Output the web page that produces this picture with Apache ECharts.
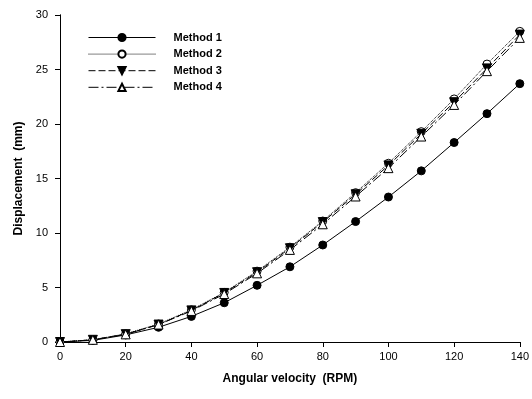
<!DOCTYPE html>
<html><head><meta charset="utf-8">
<script src="https://cdn.jsdelivr.net/npm/echarts@6/dist/echarts.min.js"></script>
<style>html,body{margin:0;padding:0;background:#fff}#c{width:532px;height:399px}</style>
</head><body><div id="c"></div>
<script>
const rpm = [0,10,20,30,40,50,60,70,80,90,100,110,120,130,140];
const method1 = [0,0.15,0.65,1.35,2.35,3.6,5.2,6.9,8.9,11.05,13.3,15.7,18.3,20.95,23.7];
const method2 = [0,0.2,0.75,1.65,2.95,4.55,6.5,8.7,11.1,13.7,16.4,19.3,22.3,25.5,28.5];
const method3 = [0,0.2,0.72,1.6,2.9,4.5,6.4,8.6,11.0,13.55,16.2,19.1,22.0,25.1,28.2];
const method4 = [0,0.2,0.7,1.6,2.85,4.4,6.3,8.45,10.8,13.35,15.95,18.85,21.75,24.85,27.9];
const names = ['Method 1','Method 2','Method 3','Method 4'];
const xTicks = [0,20,40,60,80,100,120,140];
const yTicks = [0,5,10,15,20,25,30];

const pair = arr => rpm.map((x,i)=>[x,arr[i]]);
const font = 'Liberation Sans, Arial, sans-serif';
const chart = echarts.init(document.getElementById('c'));
const mk = (name, data, symbol, fill, ltype, rot) => ({
  name, type:'line', data: pair(data), symbol, symbolSize: symbol==='circle'?8:9,
  symbolRotate: rot||0, showSymbol:true,
  lineStyle:{color:'#000', width:1, type: ltype},
  itemStyle:{color: fill, borderColor:'#000', borderWidth:1},
  emphasis:{disabled:true}, animation:false
});
const boxAxis = {axisLine:{show:true,lineStyle:{color:'#000'}}, axisTick:{show:false}, axisLabel:{show:false}, splitLine:{show:false}};
chart.setOption({
  animation:false,
  grid:{left:60, right:9, top:15, bottom:57},
  legend:{
    orient:'vertical', left:83, top:27, itemGap:5.6, itemWidth:67, itemHeight:9,
    data: names,
    lineStyle:{width:1},
    textStyle:{fontFamily:font, fontWeight:'bold', fontSize:11, color:'#000', padding:[0,0,0,13]}
  },
  xAxis:[{
    type:'value', min:0, max:140, interval:20,
    name:'Angular velocity  (RPM)', nameLocation:'middle', nameGap:31,
    nameTextStyle:{fontFamily:font, fontWeight:'bold', fontSize:12, color:'#000'},
    axisLine:{onZero:false, lineStyle:{color:'#000'}},
    axisTick:{show:true, length:5, lineStyle:{color:'#000'}},
    axisLabel:{fontFamily:font, fontSize:11, color:'#000', margin:9},
    splitLine:{show:false}
  }, Object.assign({type:'value', position:'top', min:0, max:140}, boxAxis)],
  yAxis:[{
    type:'value', min:0, max:30, interval:5,
    name:'Displacement  (mm)', nameLocation:'middle', nameGap:31,
    nameTextStyle:{fontFamily:font, fontWeight:'bold', fontSize:12, color:'#000'},
    axisLine:{show:true, lineStyle:{color:'#000'}},
    axisTick:{show:true, length:5, lineStyle:{color:'#000'}},
    axisLabel:{fontFamily:font, fontSize:11, color:'#000', margin:12},
    splitLine:{show:false}
  }, Object.assign({type:'value', position:'right', min:0, max:30}, boxAxis)],
  series:[
    mk(names[0], method1, 'circle', '#000', 'solid'),
    mk(names[1], method2, 'circle', '#fff', 'dotted'),
    mk(names[2], method3, 'triangle', '#000', [7,3], 180),
    mk(names[3], method4, 'triangle', '#fff', [10,3,2,3]),
  ]
});
</script></body></html>
